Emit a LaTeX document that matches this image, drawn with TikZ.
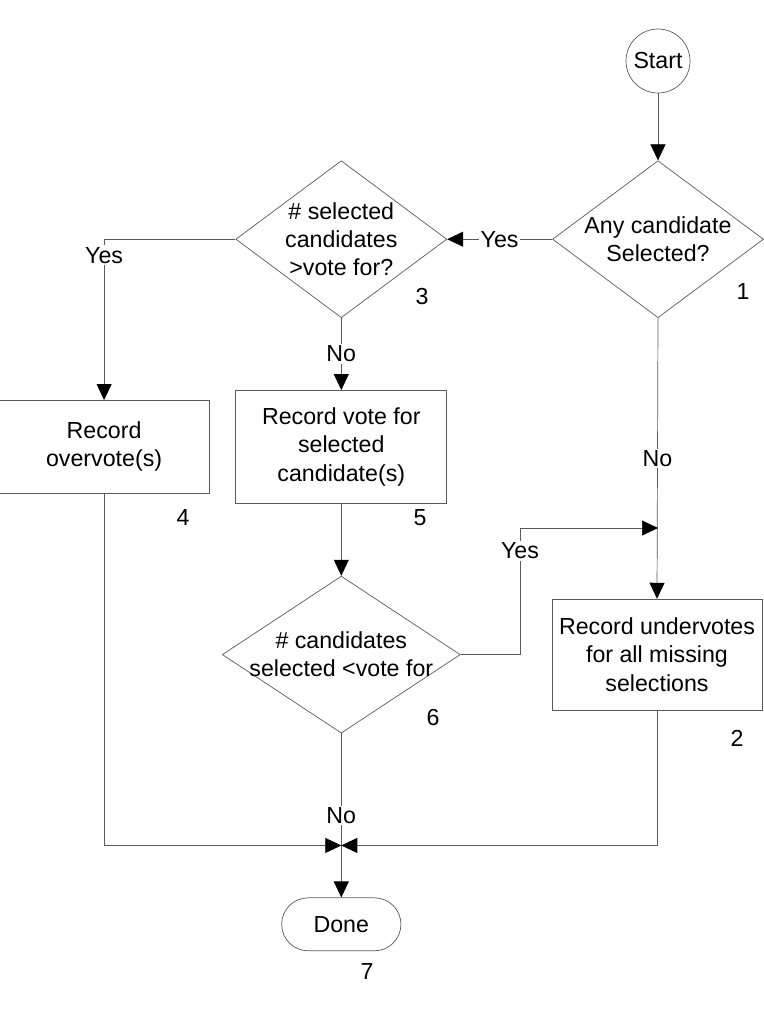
\documentclass[tikz,border=0pt]{standalone}
\usepackage{fontspec}
\setmainfont{Liberation Sans}
\usepackage{xcolor}
\usepackage{tikz}
\usetikzlibrary{positioning,shapes.geometric,shapes.misc,arrows.meta}
\definecolor{linegray}{RGB}{90,90,90}

\begin{document}
\begin{tikzpicture}[node distance=1.4cm and 2cm, text centered, font=\fontsize{13.2}{16}\selectfont]
  % Styles
  \tikzstyle{terminal}=[circle, draw=linegray, minimum size=1.28cm, inner sep=0pt]
  \tikzstyle{finish}=[rounded rectangle, draw=linegray, minimum width=2.62cm, minimum height=1.06cm]
  \tikzstyle{decision}=[diamond, draw=linegray, inner sep=0pt, minimum width=4.22cm, minimum height=3.14cm]
  \tikzstyle{dtext}=[align=center, inner sep=0pt]
  \tikzstyle{process}=[rectangle, draw=linegray, align=center, minimum width=4.2cm, minimum height=1.86cm]
  \tikzstyle{flow}=[draw=linegray, -{Triangle[length=0.32cm, width=0.3cm, color=black]}]
  \tikzstyle{lbl}=[fill=white, inner sep=1pt]
  \tikzstyle{num}=[inner sep=0pt]

  \useasboundingbox (0,0) rectangle (15.28,-20.34);

  % Start and first decision
  \node[terminal] (start) at (13.16,-1.22) {Start};
  \node[decision, below=1.34cm of start] (any) {};
  \node[dtext] (anytxt) at (any) {Any candidate\\Selected?};
  % Overvote check
  \node[decision, left=2.1cm of any] (over) {};
  \node[dtext] (overtxt) at (over) {\# selected\\candidates\\>vote for?};
  % Recording
  \node[process, minimum height=2.26cm, minimum width=4.22cm, below=1.44cm of over] (vote) {Record vote for\\selected\\candidate(s)};
  \node[process, left=0.52cm of vote] (overvote) {Record\\overvote(s)};
  % Undervote check
  \node[decision, minimum width=4.76cm, below=1.44cm of vote] (under) {};
  \node[dtext] (undertxt) at (under) {\# candidates\\selected <vote for};
  \node[process, minimum height=2.22cm, right=1.82cm of under] (undervote) {Record undervotes\\for all missing\\selections};
  % Done
  \node[finish, below=3.28cm of under] (done) {Done};
  \coordinate[below=2.24cm of under] (join);
  \coordinate (merge) at (13.16,-10.56);
  \coordinate (yesturn) at (10.4,-10.56);

  % Step numbers
  \node[num] (n1) at (14.86,-5.84) {1};
  \node[num] (n2) at (14.74,-14.76) {2};
  \node[num] (n3) at (8.44,-5.94) {3};
  \node[num] (n4) at (3.66,-10.36) {4};
  \node[num] (n5) at (8.40,-10.36) {5};
  \node[num] (n6) at (8.66,-14.36) {6};
  \node[num] (n7) at (7.34,-19.44) {7};

  % Arrows
  \draw[flow] (start) -- (any);
  \draw[flow] (any.west) -- node[lbl] {Yes} (over.east);
  \draw[flow] (over.west) -| node[lbl, pos=0.55] {Yes} (overvote.north);
  \draw[flow] (over.south) -- node[lbl] {No} (vote.north);
  \draw[flow] (any.south) -- node[lbl] {No} (undervote.north);
  \draw[flow] (vote) -- (under);
  \draw[flow] (under.east) -| node[lbl, pos=0.91] {Yes} (yesturn) -- (merge);
  \draw[flow] (under.south) -- node[lbl] {No} (done.north);
  \draw[flow] (overvote.south) |- (join);
  \draw[flow] (undervote.south) |- (join);
\end{tikzpicture}
\end{document}
